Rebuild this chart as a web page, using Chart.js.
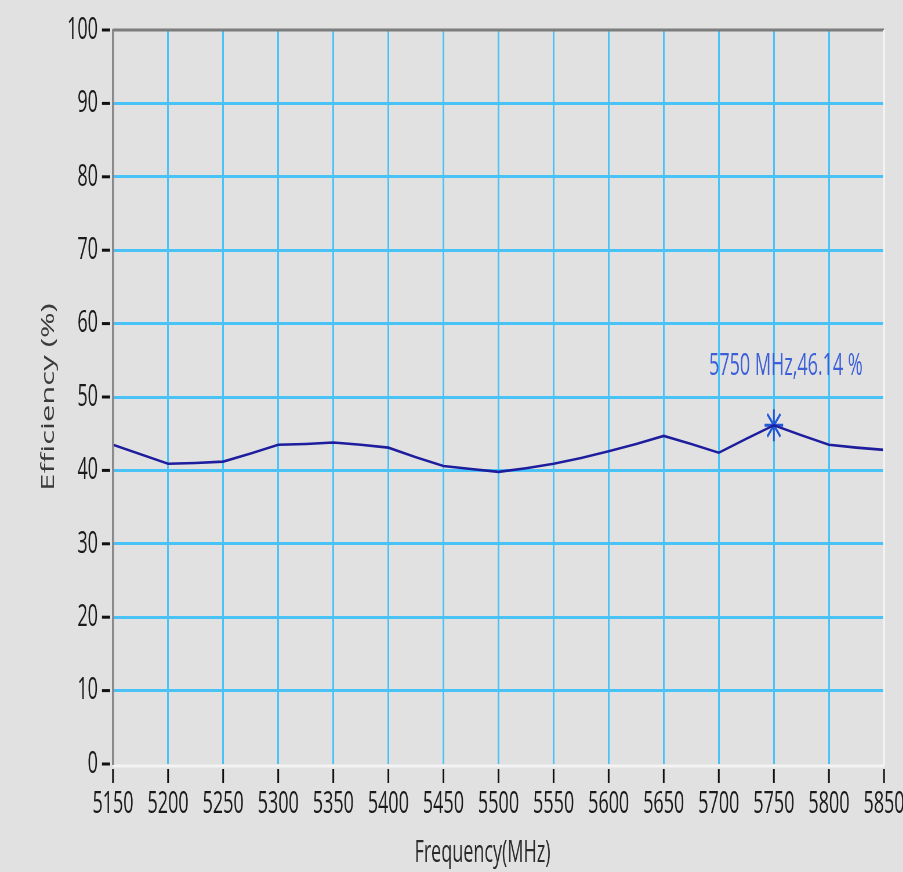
<!DOCTYPE html>
<html>
<head>
<meta charset="utf-8">
<script src="https://cdn.jsdelivr.net/npm/chart.js@4/dist/chart.umd.min.js"></script>
<style>
  html, body { margin: 0; padding: 0; background: #e1e1e1; overflow: hidden; }
  #wrap { transform-origin: 0 0; }
</style>
</head>
<body>
<div id="wrap"><canvas id="c"></canvas></div>
<script>
// ---- data ----
const frequencies = [5150,5175,5200,5225,5250,5275,5300,5325,5350,5375,5400,5425,5450,5475,5500,5525,5550,5575,5600,5625,5650,5675,5700,5725,5750,5775,5800,5825,5850];
const efficiency  = [43.5,42.2,40.9,41.0,41.2,42.3,43.5,43.6,43.8,43.5,43.1,41.8,40.6,40.2,39.8,40.3,40.9,41.7,42.6,43.6,44.7,43.6,42.4,44.3,46.14,44.8,43.5,43.1,42.8];
const xTickValues = [5150,5200,5250,5300,5350,5400,5450,5500,5550,5600,5650,5700,5750,5800,5850];
const yTickValues = [0,10,20,30,40,50,60,70,80,90,100];
const markerFreq = 5750;
const markerValue = 46.14;
const markerLabel = markerFreq + ' MHz,' + markerValue.toFixed(2) + ' %';
const xTitle = 'Frequency(MHz)';
const yTitle = 'Efficiency (%)';

// ---- layout (picture is horizontally condensed) ----
const SX = 0.58;
const W = Math.round(903 / SX);
const H = 872;
const FONT = '"Open Sans", "Noto Sans", sans-serif';
const FS = 31;
const plotLeft = 113 / SX;
const plotRight = 884 / SX;
const plotTop = 30;
const plotBottom = 764;

const wrap = document.getElementById('wrap');
wrap.style.width = W + 'px';
wrap.style.height = H + 'px';
wrap.style.transform = 'scaleX(' + SX + ')';
const canvas = document.getElementById('c');
canvas.width = W; canvas.height = H;
canvas.style.width = W + 'px'; canvas.style.height = H + 'px';

const GRID = '#48c2f7';
const noEdge = (edges) => (ctx) => (ctx.tick && edges.includes(ctx.tick.value)) ? 'rgba(0,0,0,0)' : GRID;

const decor = {
  id: 'decor',
  afterDraw(chart) {
    const { ctx, chartArea: a, scales: { x, y } } = chart;
    ctx.save();
    // frame
    ctx.lineWidth = 3;
    ctx.strokeStyle = '#7d7d7d';
    ctx.beginPath(); ctx.moveTo(a.left, a.top); ctx.lineTo(a.right, a.top); ctx.stroke();
    ctx.strokeStyle = '#f3f3f3';
    ctx.lineWidth = 3.5;
    ctx.beginPath(); ctx.moveTo(a.right, a.top); ctx.lineTo(a.right, a.bottom + 2); ctx.stroke();
    ctx.lineWidth = 3;
    ctx.beginPath(); ctx.moveTo(a.left, a.bottom + 2); ctx.lineTo(a.right, a.bottom + 2); ctx.stroke();
    // left axis
    ctx.strokeStyle = '#858585';
    ctx.lineWidth = 3.5;
    ctx.beginPath(); ctx.moveTo(a.left, a.top - 1); ctx.lineTo(a.left, a.bottom + 1); ctx.stroke();
    // tick marks
    ctx.strokeStyle = '#111';
    ctx.lineWidth = 3;
    y.ticks.forEach(t => {
      const py = y.getPixelForValue(t.value);
      ctx.beginPath(); ctx.moveTo(a.left - 19, py); ctx.lineTo(a.left - 5, py); ctx.stroke();
    });
    x.ticks.forEach(t => {
      const px = x.getPixelForValue(t.value);
      ctx.beginPath(); ctx.moveTo(px, a.bottom + 5); ctx.lineTo(px, a.bottom + 19); ctx.stroke();
    });
    // x title
    ctx.font = FS + 'px ' + FONT;
    ctx.fillStyle = '#2a2a2a';
    ctx.textAlign = 'center';
    ctx.textBaseline = 'middle';
    ctx.fillText(xTitle, (a.left + a.right) / 2 - 16 / SX, 853);
    // marker label
    const mx = x.getPixelForValue(markerFreq), my = y.getPixelForValue(markerValue);
    ctx.fillStyle = '#3c5fd8';
    ctx.fillText(markerLabel, mx + 12 / SX, my - 59);
    ctx.restore();
  }
};

new Chart(canvas, {
  type: 'line',
  data: {
    datasets: [
      {
        data: frequencies.map((f, i) => ({ x: f, y: efficiency[i] })),
        borderColor: '#1d1d9e',
        borderWidth: 2.6,
        pointRadius: 0,
        tension: 0,
        fill: false
      },
      {
        data: [{ x: markerFreq, y: markerValue }],
        showLine: false,
        pointStyle: 'star',
        pointRadius: 16,
        borderColor: '#1f5ad6',
        backgroundColor: '#1f5ad6',
        pointBorderWidth: 3
      }
    ]
  },
  options: {
    responsive: false,
    animation: false,
    devicePixelRatio: 1,
    layout: { autoPadding: false, padding: { left: 0, top: plotTop, right: W - plotRight, bottom: 0 } },
    plugins: { legend: { display: false }, tooltip: { enabled: false } },
    scales: {
      x: {
        type: 'linear',
        min: 5150, max: 5850,
        afterBuildTicks: s => { s.ticks = xTickValues.map(v => ({ value: v })); },
        afterFit: s => { s.height = H - plotBottom; s.paddingLeft = 0; s.paddingRight = 0; },
        grid: { color: noEdge([5150, 5850]), lineWidth: 3, drawTicks: false },
        border: { display: false },
        ticks: {
          callback: v => String(v),
          color: '#1a1a1a',
          font: { family: FONT, size: FS },
          padding: 22,
          maxRotation: 0, autoSkip: false
        }
      },
      y: {
        min: 0, max: 100,
        afterBuildTicks: s => { s.ticks = yTickValues.map(v => ({ value: v })); },
        afterFit: s => { s.width = plotLeft; s.paddingTop = 0; s.paddingBottom = 0; },
        grid: { color: noEdge([0, 100]), lineWidth: 3, drawTicks: false },
        border: { display: false },
        ticks: {
          callback: v => String(v),
          color: '#1a1a1a',
          font: { family: FONT, size: FS },
          padding: 26
        },
        title: {
          display: true,
          text: yTitle,
          color: '#3a3a3a',
          font: { family: FONT, size: FS },
          padding: { top: 66, bottom: 0 }
        }
      }
    }
  },
  plugins: [decor]
});
</script>
</body>
</html>
